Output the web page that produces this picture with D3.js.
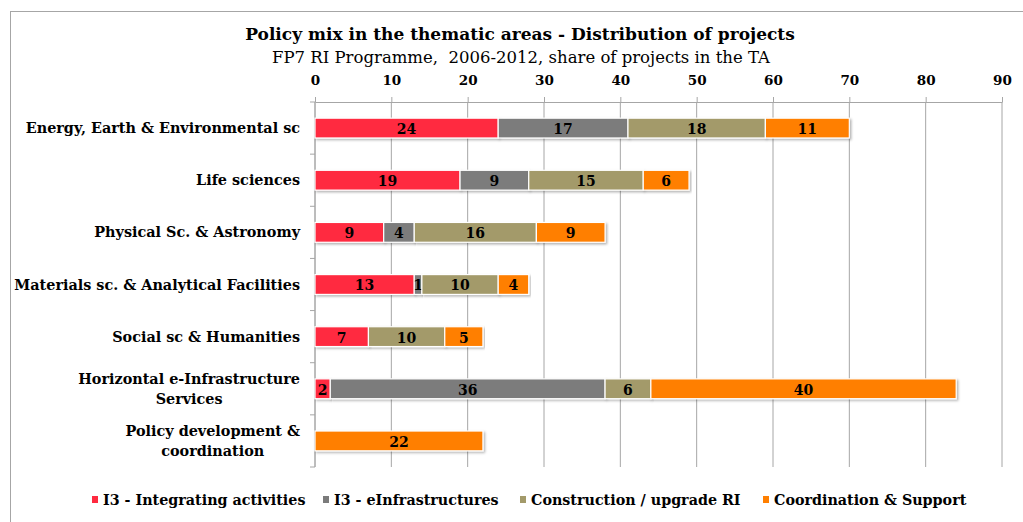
<!DOCTYPE html>
<html>
<head>
<meta charset="utf-8">
<script src="https://cdn.jsdelivr.net/npm/d3@7"></script>
<style>
  body { margin: 0; background: #fff; }
  text { font-family: "DejaVu Serif", Georgia, serif; fill: #000; }
</style>
</head>
<body>
<script>
// chart data
var categories = [
  ["Energy, Earth & Environmental sc"],
  ["Life sciences"],
  ["Physical Sc. & Astronomy"],
  ["Materials sc. & Analytical Facilities"],
  ["Social sc & Humanities"],
  ["Horizontal e-Infrastructure", "Services"],
  ["Policy development &", "coordination"]
];
var seriesNames = ["I3 - Integrating activities", "I3 - eInfrastructures", "Construction / upgrade RI", "Coordination & Support"];
var integrating   = [24, 19, 9, 13, 7, 2, 0];
var einfra        = [17, 9, 4, 1, 0, 36, 0];
var construction  = [18, 15, 16, 10, 10, 6, 0];
var coordination  = [11, 6, 9, 4, 5, 40, 22];
var xTicks = [0, 10, 20, 30, 40, 50, 60, 70, 80, 90];

var colors = ["#ff2a40", "#7b7b7b", "#a39a6a", "#ff7f00"];

var width = 1023,
    height = 522;
var margin = {top: 102, left: 315, right: 21, bottom: 55};

var svg = d3.select("body").append("svg")
    .attr("width", width)
    .attr("height", height);

// little drop shadow like the original
var defs = svg.append("defs");
var f = defs.append("filter").attr("id", "shadow")
    .attr("x", "-5%").attr("y", "-20%").attr("width", "110%").attr("height", "160%");
f.append("feDropShadow")
    .attr("dx", 1.5).attr("dy", 1.5).attr("stdDeviation", 1)
    .attr("flood-color", "#000").attr("flood-opacity", 0.3);

// outer frame
svg.append("rect")
    .attr("x", 10.5).attr("y", 11.5)
    .attr("width", 1030).attr("height", 530)
    .attr("fill", "none")
    .attr("stroke", "#a6a6a6");

var x = d3.scaleLinear().domain([0, 90]).range([margin.left, 1002]);
var y = d3.scaleBand()
    .domain(d3.range(categories.length))
    .range([margin.top, height - margin.bottom])
    .paddingInner(0.62).paddingOuter(0.31);

// title
svg.append("text")
    .attr("x", 520).attr("y", 40)
    .attr("text-anchor", "middle")
    .style("font-weight", "bold")
    .style("font-size", "17px")
    .text("Policy mix in the thematic areas - Distribution of projects");
svg.append("text")
    .attr("x", 521).attr("y", 63)
    .attr("text-anchor", "middle")
    .style("font-size", "16.5px")
    .style("white-space", "pre")
    .text("FP7 RI Programme,  2006-2012, share of projects in the TA");

// gridlines
svg.append("g")
    .selectAll("line")
    .data(xTicks)
    .enter().append("line")
    .attr("x1", function(d) { return x(d); })
    .attr("x2", function(d) { return x(d); })
    .attr("y1", margin.top)
    .attr("y2", height - margin.bottom)
    .attr("stroke", "#a6a6a6");

// top axis
var xAxis = svg.append("g")
    .attr("transform", "translate(0," + margin.top + ")")
    .call(d3.axisTop(x).tickValues(xTicks).tickSize(5).tickSizeOuter(0).tickPadding(12));
xAxis.selectAll("line, path").attr("stroke", "#a6a6a6");
xAxis.selectAll("text")
    .style("font-family", "\"DejaVu Serif\", Georgia, serif")
    .style("font-weight", "bold")
    .style("font-size", "13.5px");

// left axis (category separators)
var bandStep = y.step();
var sep = d3.range(categories.length + 1).map(function(i) { return margin.top + i * bandStep; });
var leftAxis = svg.append("g");
leftAxis.append("line")
    .attr("x1", margin.left).attr("x2", margin.left)
    .attr("y1", margin.top).attr("y2", height - margin.bottom)
    .attr("stroke", "#a6a6a6");
leftAxis.selectAll(".sep")
    .data(sep)
    .enter().append("line")
    .attr("class", "sep")
    .attr("x1", margin.left - 5).attr("x2", margin.left)
    .attr("y1", function(d) { return d; })
    .attr("y2", function(d) { return d; })
    .attr("stroke", "#a6a6a6");

// category labels
var catLabel = svg.append("g").selectAll("text")
    .data(categories)
    .enter().append("text")
    .style("font-weight", "bold")
    .style("font-size", "14.4px")
    .attr("y", function(d, i) { return y(i) + y.bandwidth() / 2; });
catLabel.each(function(lines, i) {
    var t = d3.select(this);
    if (lines.length == 1) {
        t.attr("x", 300).attr("text-anchor", "end").attr("dy", "0.35em").text(lines[0]);
    } else {
        // two line labels: centred block, right edge on 300
        var tmp = t.append("tspan").text(lines[0]);
        var w = tmp.node().getComputedTextLength();
        tmp.remove();
        var cx = 300 - w / 2;
        t.attr("text-anchor", "middle");
        lines.forEach(function(l, k) {
            t.append("tspan")
                .attr("x", cx)
                .attr("dy", k == 0 ? "-0.32em" : "1.35em")
                .text(l);
        });
    }
});

// stacked bars
var table = categories.map(function(c, i) {
    return {i: i, v: [integrating[i], einfra[i], construction[i], coordination[i]]};
});
var stack = d3.stack().keys([0, 1, 2, 3]).value(function(d, k) { return d.v[k]; });
var layers = stack(table);

var layer = svg.append("g").selectAll("g")
    .data(layers)
    .enter().append("g")
    .attr("fill", function(d) { return colors[d.key]; });

layer.selectAll("rect")
    .data(function(d) { return d.filter(function(s) { return s[1] > s[0]; }); })
    .enter().append("rect")
    .attr("x", function(d) { return x(d[0]); })
    .attr("y", function(d) { return y(d.data.i); })
    .attr("width", function(d) { return x(d[1]) - x(d[0]); })
    .attr("height", y.bandwidth())
    .attr("stroke", "#fff")
    .attr("stroke-width", 1.2)
    .attr("filter", "url(#shadow)");

layer.selectAll("text")
    .data(function(d) { return d.filter(function(s) { return s[1] > s[0]; }); })
    .enter().append("text")
    .attr("x", function(d) { return (x(d[0]) + x(d[1])) / 2; })
    .attr("y", function(d) { return y(d.data.i) + y.bandwidth() / 2; })
    .attr("dy", "0.42em")
    .attr("text-anchor", "middle")
    .style("font-weight", "bold")
    .style("font-size", "14px")
    .text(function(d) { return d[1] - d[0]; });

// legend
var legendX = [92, 323, 520, 763];
var legend = svg.append("g").selectAll("g")
    .data(seriesNames)
    .enter().append("g")
    .attr("transform", function(d, i) { return "translate(" + legendX[i] + ",500)"; });
legend.append("rect")
    .attr("x", 0).attr("y", -4)
    .attr("width", 6).attr("height", 7)
    .attr("fill", function(d, i) { return colors[i]; });
legend.append("text")
    .attr("x", 11)
    .attr("dy", "0.35em")
    .style("font-weight", "bold")
    .style("font-size", "14.3px")
    .text(function(d) { return d; });
</script>
</body>
</html>
